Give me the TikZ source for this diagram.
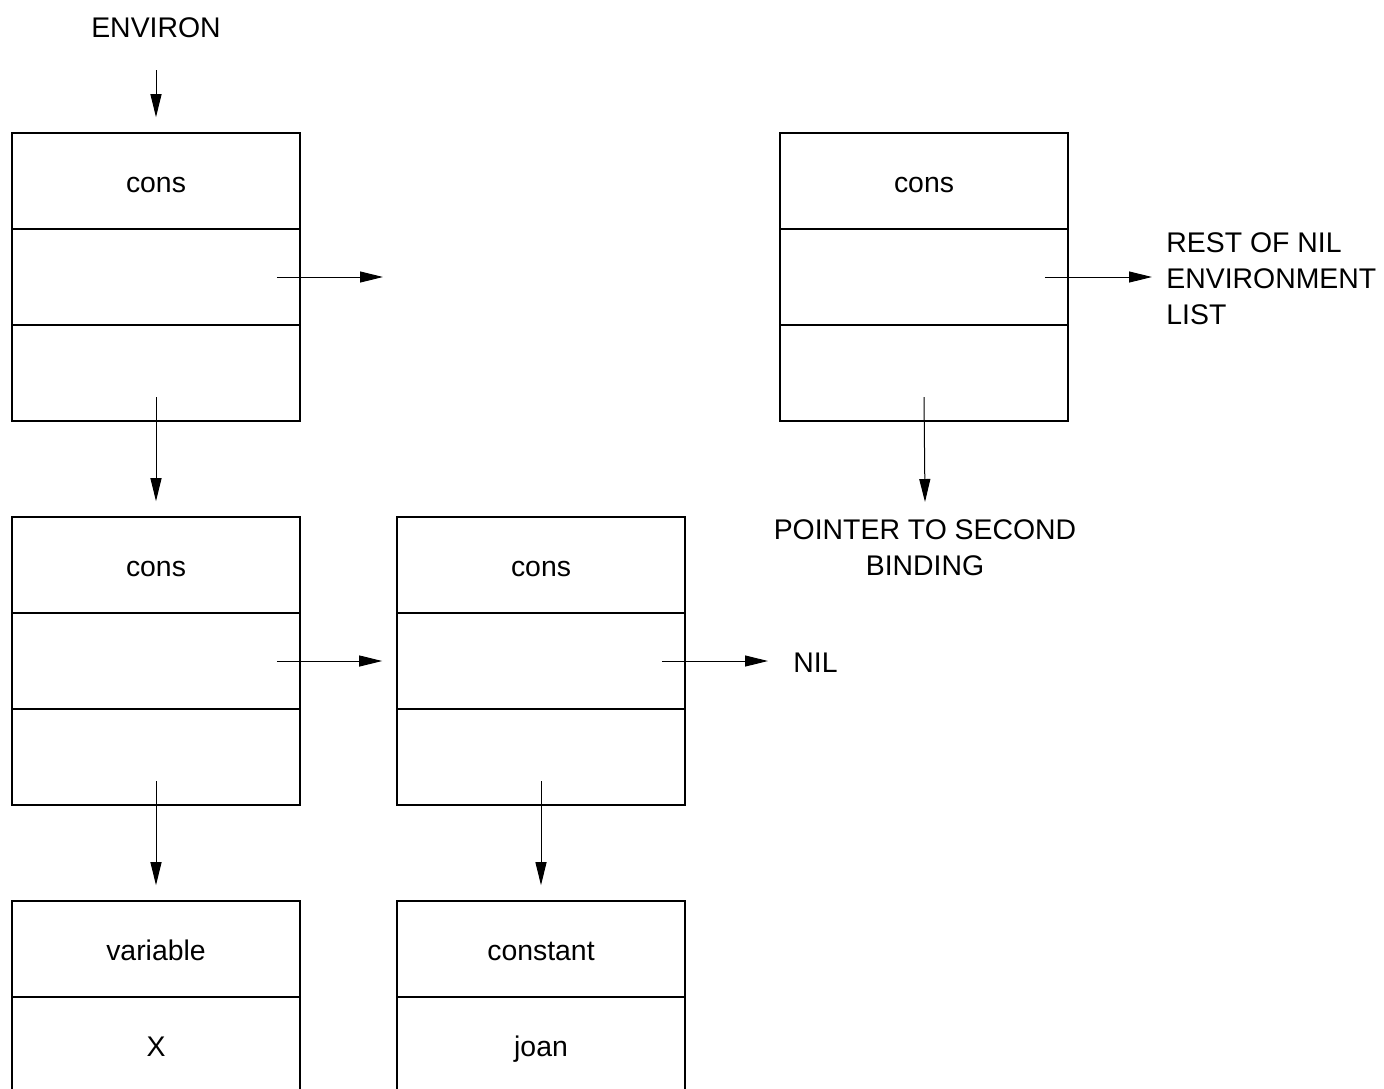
\documentclass[tikz,border=0pt]{standalone}
\usepackage{fontspec}
\setmainfont{Liberation Sans}
\usetikzlibrary{arrows.meta}
\begin{document}
\begin{tikzpicture}[x=0.5pt,y=-0.5pt,
  font=\fontsize{14.2}{18}\selectfont,
  cell/.style={draw,line width=0.8pt,minimum width=144pt,minimum height=48pt,inner sep=0pt,
    text height=11pt,text depth=0pt,anchor=center},
  ptr/.style={line width=0.5pt,-{Triangle[length=11.5pt,width=5.5pt]}},
  lbl/.style={inner sep=0pt}]
\clip (0,0) rectangle (1384,1088);
% top left cons cell
\node[cell] (a1) at (156,181) {cons};
\node[cell] (a2) at (156,277) {};
\node[cell] (a3) at (156,373) {};
% top right cons cell
\node[cell] (b1) at (924,181) {cons};
\node[cell] (b2) at (924,277) {};
\node[cell] (b3) at (924,373) {};
% middle row
\node[cell] (c1) at (156,565) {cons};
\node[cell] (c2) at (156,661) {};
\node[cell] (c3) at (156,757) {};
\node[cell] (d1) at (541,565) {cons};
\node[cell] (d2) at (541,661) {};
\node[cell] (d3) at (541,757) {};
% bottom row
\node[cell] (e1) at (156,949) {variable};
\node[cell] (e2) at (156,1045) {X};
\node[cell] (f1) at (541,949) {constant};
\node[cell] (f2) at (541,1045) {joan};
% labels
\node[lbl] (env) at (156,28) {ENVIRON};
\node[lbl,anchor=west,align=left] (rest) at (1166,279) {REST OF NIL\\ENVIRONMENT\\LIST};
\node[lbl,anchor=north,align=center] (ptr2) at (925,519) {POINTER TO SECOND\\BINDING};
\node[lbl,anchor=west] (nil) at (793,663) {NIL};
% free ends of pointers
\coordinate (aend) at (383,277);
\coordinate (restend) at ([xshift=-7pt]rest.west);
\coordinate (nilend) at ([xshift=-12.5pt]nil.west);
% pointers
\draw[ptr] ([yshift=-21pt]env.center) -- ([yshift=7.5pt]a1.north);
\draw[ptr] ([xshift=-12pt]a2.east) -- (aend);
\draw[ptr] ([yshift=-12pt]a3.center) -- ([yshift=7.5pt]c1.north);
\draw[ptr] ([xshift=-12pt]b2.east) -- (restend |- b2.center);
\draw[ptr] ([yshift=-12pt]b3.center) -- ([yshift=8.5pt]ptr2.north);
\draw[ptr] ([xshift=-12pt]c2.east) -- ([xshift=-7pt]d2.west);
\draw[ptr] ([xshift=-12pt]d2.east) -- (nilend |- d2.center);
\draw[ptr] ([yshift=-12pt]c3.center) -- ([yshift=7.5pt]e1.north);
\draw[ptr] ([yshift=-12pt]d3.center) -- ([yshift=7.5pt]f1.north);
\end{tikzpicture}
\end{document}
